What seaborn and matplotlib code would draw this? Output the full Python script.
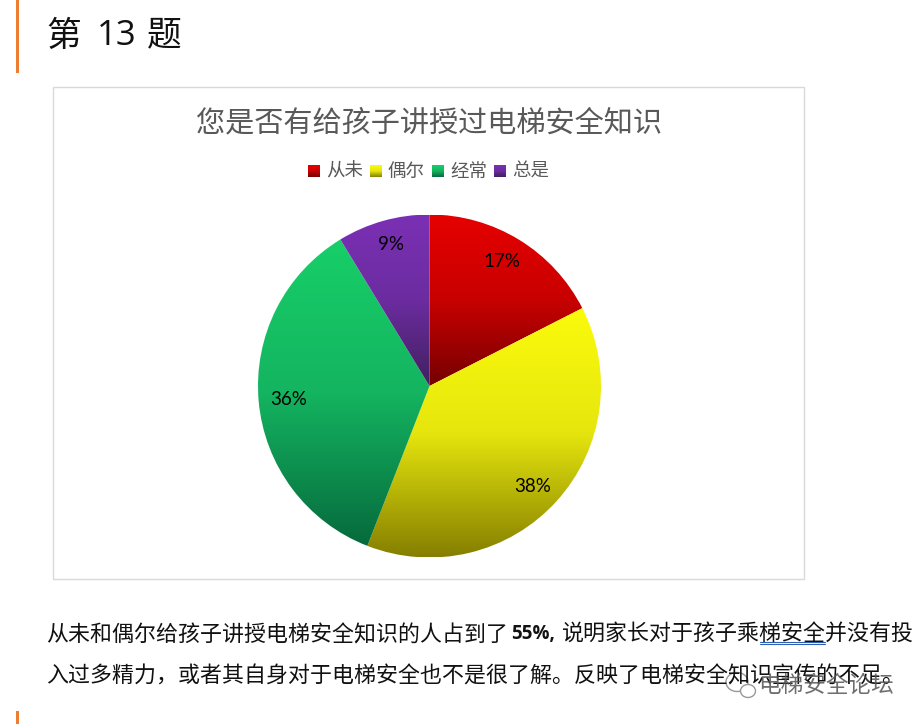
import numpy as np
import seaborn as sns
import matplotlib.pyplot as plt
from matplotlib.patches import Rectangle, Ellipse

categories = ['从未', '偶尔', '经常', '总是']
shares = [17.5, 38.4, 35.4, 8.7]
share_labels = ['17%', '38%', '36%', '9%']
top_colors = ['#e60000', '#fbfb0c', '#17cf68', '#7a30b4']
mid_colors = ['#c80000', '#e6e60e', '#14b460', '#6c2ca0']
bottom_colors = ['#750000', '#857f00', '#066a3c', '#41205f']

chart_title = '您是否有给孩子讲授过电梯安全知识'
line1a = '从未和偶尔给孩子讲授电梯安全知识的人占到了'
line1b = '55%,'
line1c = '说明家长对于孩子乘梯安全并没有投'
line2 = '入过多精力，或者其自身对于电梯安全也不是很了解。反映了电梯安全知识宣传的不足。'
watermark = '电梯安全论坛'

W, H = 924, 724
ORANGE = '#ed7d31'

sns.set_theme(style='white')
plt.rcParams['font.family'] = ['Noto Sans CJK SC', 'DejaVu Sans']


def gradient(top, mid, bottom):
    cols = sns.blend_palette([top, mid, bottom], n_colors=256)
    return np.array(cols).reshape(256, 1, 3)


fig = plt.figure(figsize=(W / 100, H / 100), dpi=100, facecolor='white')

# page layer, in pixels
page = fig.add_axes([0, 0, 1, 1])
page.set_xlim(0, W)
page.set_ylim(H, 0)
page.axis('off')

page.add_patch(Rectangle((16, 0), 3, 73, color=ORANGE, lw=0))
page.add_patch(Rectangle((16, 711), 3, 13, color=ORANGE, lw=0))
page.add_patch(Rectangle((53, 87), 751, 492, fc='white', ec='#d9d9d9', lw=1))

page.text(46, 36, '第', fontsize=25, color='#111111', va='center', ha='left')
page.text(97, 36, '13', fontsize=25, color='#111111', va='center', ha='left', family='Open Sans')
page.text(147, 36, '题', fontsize=25, color='#111111', va='center', ha='left')

page.text(429, 123, chart_title, fontsize=21, color='#595959', ha='center', va='center')

legend_x = [308, 370, 432, 494]
for x, name, t, m, b in zip(legend_x, categories, top_colors, mid_colors, bottom_colors):
    page.imshow(gradient(t, m, b), extent=(x, x + 12, 177, 165), aspect='auto', zorder=3)
    page.text(x + 18, 172, name, fontsize=13.3, color='#595959', ha='left', va='center')
page.set_xlim(0, W)
page.set_ylim(H, 0)

page.text(46, 635, line1a, fontsize=15.8, color='#111111', va='center', ha='left')
page.text(511, 634, line1b, fontsize=13.5, color='#111111', va='center', ha='left', family='Open Sans', weight='bold')
page.text(562, 635, line1c, fontsize=15.8, color='#111111', va='center', ha='left')
page.plot([760, 825], [642, 642], color='#2f5fb3', lw=0.8)
page.plot([760, 825], [644, 644], color='#2f5fb3', lw=0.8)
page.text(46, 676, line2, fontsize=15.8, color='#111111', va='center', ha='left')

# watermark
page.text(758, 685, watermark, fontsize=16.3, color='#555555', va='center', ha='left', alpha=0.85)
page.add_patch(Ellipse((737, 682), 22, 19, fc='none', ec='#999999', lw=1))
page.add_patch(Ellipse((748, 691), 15, 13, fc='white', ec='#999999', lw=1))

# pie
cx, cy, r = 429.5, 386, 171.5
ax = fig.add_axes([(cx - r) / W, 1 - (cy + r) / H, 2 * r / W, 2 * r / H])
ax.patch.set_alpha(0)
label_iter = iter(share_labels)
wedges, _, pct = ax.pie(shares, startangle=90, counterclock=False,
                        autopct=lambda p: next(label_iter), pctdistance=0.84,
                        textprops={'fontsize': 13.5, 'color': 'black', 'family': 'Lato'},
                        wedgeprops={'linewidth': 0})
for w, t, m, b in zip(wedges, top_colors, mid_colors, bottom_colors):
    box = w.get_path().get_extents()
    w.set_facecolor('none')
    im = ax.imshow(gradient(t, m, b), extent=(box.x0, box.x1, box.y0, box.y1), aspect='auto', zorder=1)
    im.set_clip_path(w.get_path(), transform=ax.transData)

# small label nudges, in pixels
nudges = [(-3, 2), (-4, -4), (3, -1), (0, 3)]
for t, (dx, dy) in zip(pct, nudges):
    x, y = t.get_position()
    t.set_position((x + dx / r, y + dy / r))
    t.set_zorder(5)
ax.set_xlim(-1, 1)
ax.set_ylim(-1, 1)
ax.set_aspect('equal')
ax.axis('off')

fig.savefig('out.png', dpi=100)
